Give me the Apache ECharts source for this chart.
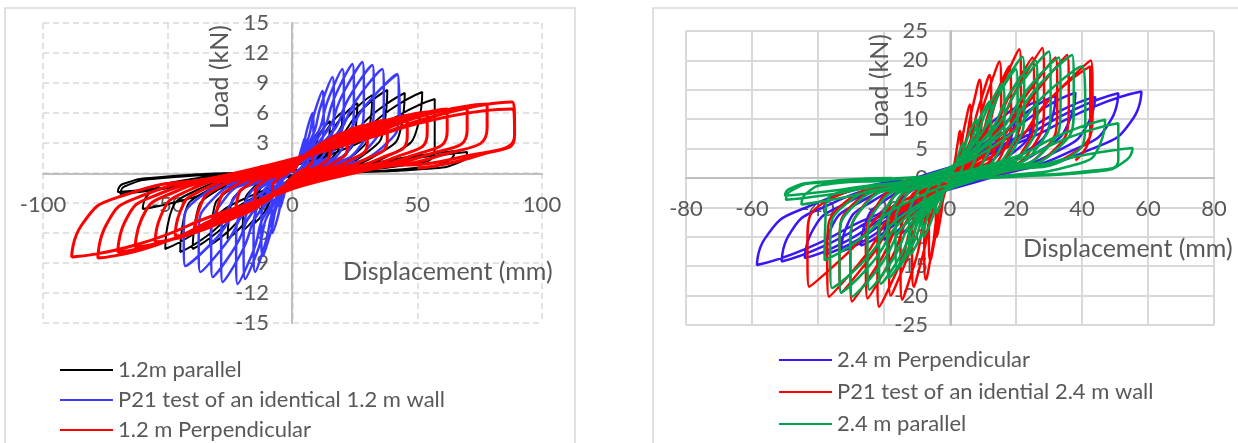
<!DOCTYPE html>
<html>
<head>
<meta charset="utf-8">
<script src="https://cdn.jsdelivr.net/npm/echarts@6/dist/echarts.min.js"></script>
<style>
  html, body { margin: 0; padding: 0; background: #fff; }
  #chart { width: 1238px; height: 443px; }
</style>
</head>
<body>
<div id="chart"></div>
<script>
// left panel: 1.2 m walls (displacement mm, load kN)
var parallel12 = [
  [0,0],[2.4,0.9],[4.5,2],[6,2.5],[5.8,1.5],[4.5,0.6],[1.8,0.05],[-2.4,-0.9],[-4.5,-2],[-6,-2.5],[-5.8,-1.5],[-4.5,-0.6],[-1.8,-0.05],
  [4,1.4],[7.5,3.1],[10,4],[9.7,2.4],[7.5,0.9],[3,0.1],[-4,-1.3],[-7.5,-3],[-10,-3.8],[-9.7,-2.3],[-7.5,-0.8],[-3,-0.1],
  [6,1.8],[11.3,4.1],[15,5.2],[14.6,3.1],[11.3,1.1],[4.5,0.1],[-6,-1.8],[-11.3,-3.9],[-15,-5],[-14.6,-3],[-11.3,-1.1],[-4.5,-0.1],
  [8,2.1],[15,4.8],[20,6.1],[19.4,3.7],[15,1.3],[6,0.1],[-8,-2],[-15,-4.5],[-20,-5.8],[-19.4,-3.5],[-15,-1.3],[-6,-0.1],
  [10.4,2.5],[19.5,5.5],[26,7],[25.2,4.2],[19.5,1.5],[7.8,0.1],[-10.4,-2.3],[-19.5,-5.1],[-26,-6.6],[-25.2,-4],[-19.5,-1.5],[-7.8,-0.1],
  [12.8,2.7],[24,6.1],[32,7.8],[31,4.7],[24,1.7],[9.6,0.2],[-13.2,-2.5],[-24.8,-5.6],[-33,-7.2],[-32,-4.3],[-24.8,-1.6],[-9.9,-0.1],
  [15.2,2.9],[28.5,6.5],[38,8.3],[36.9,5],[28.5,1.8],[11.4,0.2],[-16,-2.7],[-30,-5.9],[-40,-7.6],[-38.8,-4.6],[-30,-1.7],[-12,-0.2],
  [18,2.8],[33.8,6.2],[45,8],[43.7,4.8],[33.8,1.8],[13.5,0.2],[-18,-2.8],[-33.8,-6.2],[-45,-7.9],[-43.7,-4.7],[-33.8,-1.7],[-13.5,-0.2],
  [20.8,2.8],[39,6.3],[52,8.1],[50.4,4.9],[39,1.8],[15.6,0.2],[-20.4,-2.7],[-38.3,-5.9],[-51,-7.6],[-49.5,-4.6],[-38.3,-1.7],[-15.3,-0.2],
  [22.8,2.6],[42.8,5.8],[57,7.4],[57,2.5],[45,0.8],[17,0.1],[-24,-1.3],[-45,-2.8],[-60,-3.6],[-58,-2.2],[-45,-0.8],[-18,-0.1],
  [26,0.8],[49,1.7],[65,2.2],[63,1.3],[49,0.5],[20,0.05],[-28,-0.7],[-52,-1.6],[-69,-2.1],[-67,-1.3],[-52,-0.5],[-21,-0.05],
  [28,0.8],[52.5,1.6],[70,2.1],[68,1.2],[52.5,0.4],[21,0],[-28,-0.7],[-52.5,-1.5],[-70,-1.9],[-68,-1.1],[-52.5,-0.4],[-21,0]
];
var p21Wall12 = [
  [0,0],[2,1.1],[3.8,2.6],[5,3.5],[5.3,2.3],[4.3,0.9],[1.5,0.1],[-2,-1.1],[-3.8,-2.6],[-5,-3.5],[-5.3,-2.3],[-4.3,-0.9],[-1.5,-0.1],
  [3.2,1.8],[6,4.5],[8,6],[8.4,3.9],[6.8,1.5],[2.4,0.2],[-3.2,-1.8],[-6,-4.5],[-8,-6],[-8.4,-3.9],[-6.8,-1.5],[-2.4,-0.2],
  [4.8,2.5],[9,6.2],[12,8.2],[12.5,5.3],[10.2,2.1],[3.6,0.2],[-4.8,-2.5],[-9,-6.2],[-12,-8.3],[-12.5,-5.4],[-10.2,-2.1],[-3.6,-0.2],
  [6.4,2.9],[12,7.2],[16,9.6],[16.6,6.2],[13.6,2.4],[4.8,0.3],[-6,-3],[-11.3,-7.4],[-15,-9.9],[-15.6,-6.4],[-12.8,-2.5],[-4.5,-0.3],
  [8,3.1],[15,7.8],[20,10.4],[20.6,6.8],[17,2.6],[6,0.3],[-7.6,-3.2],[-14.3,-8],[-19,-10.6],[-19.6,-6.9],[-16.2,-2.7],[-5.7,-0.3],
  [9.6,3.3],[18,8.2],[24,10.9],[24.6,7.1],[20.4,2.7],[7.2,0.3],[-8.8,-3.3],[-16.5,-8.3],[-22,-11.1],[-22.6,-7.2],[-18.7,-2.8],[-6.6,-0.3],
  [11.2,3.3],[21,8.3],[28,11.1],[28.6,7.2],[23.8,2.8],[8.4,0.3],[-11.2,-3.3],[-21,-8.2],[-28,-10.9],[-28.6,-7.1],[-23.8,-2.7],[-8.4,-0.3],
  [12.8,3.2],[24,8.1],[32,10.8],[32.6,7],[27.2,2.7],[9.6,0.3],[-12.8,-3.1],[-24,-7.8],[-32,-10.4],[-32.6,-6.8],[-27.2,-2.6],[-9.6,-0.3],
  [14.4,3.1],[27,7.8],[36,10.4],[36.6,6.8],[30.6,2.6],[10.8,0.3],[-14.8,-3],[-27.8,-7.4],[-37,-9.9],[-37.6,-6.4],[-31.5,-2.5],[-11.1,-0.3],
  [16.8,3],[31.5,7.4],[42,9.9],[42.6,6.4],[35.7,2.5],[12.6,0.3],[-17.2,-2.8],[-32.3,-7],[-43,-9.3],[-43.6,-6],[-36.6,-2.3],[-12.9,-0.3],
  [16.8,3],[31.5,7.4],[42,9.8],[43,5]
];
var perp12 = [
  [0,0],[2.4,1],[5.6,1.9],[8,2.2],[8,1.4],[6,0.6],[2.4,0.05],[-2.4,-1],[-5.6,-2],[-8,-2.3],[-8,-1.5],[-6,-0.6],[-2.4,-0.05],
  [4.5,1.5],[10.5,2.8],[15,3.3],[15,2.1],[11.3,0.8],[4.5,0.1],[-4.5,-1.5],[-10.5,-2.8],[-15,-3.3],[-15,-2.1],[-11.3,-0.8],[-4.5,-0.1],
  [6.6,1.8],[15.4,3.5],[22,4.1],[22,2.7],[16.5,1],[6.6,0.1],[-6.9,-1.9],[-16.1,-3.7],[-23,-4.3],[-22.2,-2.7],[-17.3,-1.1],[-6.9,-0.1],
  [9,2.2],[21,4.1],[30,4.8],[30,3.1],[22.5,1.2],[9,0.1],[-9.3,-2.3],[-21.7,-4.3],[-31,-5.1],[-29.8,-3.2],[-23.3,-1.3],[-9.3,-0.1],
  [11.4,2.4],[26.6,4.5],[38,5.3],[38,3.4],[28.5,1.3],[11.4,0.1],[-11.7,-2.6],[-27.3,-4.8],[-39,-5.7],[-37.4,-3.6],[-29.3,-1.4],[-11.7,-0.1],
  [13.8,2.6],[32.2,4.8],[46,5.7],[46,3.7],[34.5,1.4],[13.8,0.1],[-14.1,-2.8],[-32.9,-5.4],[-47,-6.3],[-45.1,-3.9],[-35.3,-1.6],[-14.1,-0.1],
  [16.2,2.7],[37.8,5.2],[54,6.1],[54,4],[40.5,1.5],[16.2,0.1],[-16.5,-3.1],[-38.5,-5.9],[-55,-6.9],[-52.8,-4.3],[-41.3,-1.7],[-16.5,-0.1],
  [18.6,2.9],[43.4,5.4],[62,6.4],[62,4.2],[46.5,1.6],[18.6,0.1],[-18.9,-3.3],[-44.1,-6.3],[-63,-7.4],[-60.5,-4.6],[-47.3,-1.9],[-18.9,-0.1],
  [21,3],[49,5.6],[70,6.6],[70,4.3],[52.5,1.7],[21,0.1],[-21,-3.6],[-49,-6.7],[-70,-7.9],[-67.2,-4.9],[-52.5,-2],[-21,-0.2],
  [23.4,3.1],[54.6,5.9],[78,6.9],[78,4.5],[58.5,1.7],[23.4,0.1],[-23.4,-3.8],[-54.6,-7.2],[-78,-8.5],[-74.9,-5.3],[-58.5,-2.1],[-23.4,-0.2],
  [26.4,3.2],[61.6,6],[88,7.1],[89,4.6],[89,3.7],[66,1.5],[26.4,0.1],[-26.4,-3.8],[-61.6,-7.1],[-88.5,-8.4],[-84.5,-5.2],[-66,-2.1],[-26.4,-0.2],
  [26.4,3.2],[61.6,5.6],[88,6.4],[89,3.7],[75,1.8],[50,0.5]
];

// right panel: 2.4 m walls
var perp24 = [
  [0,0],[1.8,2],[3.8,4.1],[5,5],[4.8,3.5],[3.5,1.5],[1.3,0.2],[-1.8,-2],[-3.8,-4.1],[-5,-5],[-4.8,-3.5],[-3.5,-1.5],[-1.3,-0.2],
  [3.5,3.2],[7.5,6.6],[10,8],[9.6,5.6],[7,2.4],[2.5,0.2],[-3.5,-3],[-7.5,-6.2],[-10,-7.5],[-9.6,-5.3],[-7,-2.3],[-2.5,-0.2],
  [5.3,4.2],[11.3,8.6],[15,10.5],[14.4,7.4],[10.5,3.2],[3.8,0.3],[-5.3,-3.8],[-11.3,-7.8],[-15,-9.5],[-14.4,-6.7],[-10.5,-2.9],[-3.8,-0.3],
  [7,4.8],[15,9.8],[20,12],[19.2,8.4],[14,3.6],[5,0.4],[-7,-4.2],[-15,-8.6],[-20,-10.5],[-19.2,-7.4],[-14,-3.2],[-5,-0.3],
  [9.1,5.2],[19.5,10.7],[26,13],[25,9.1],[18.2,3.9],[6.5,0.4],[-9.5,-4.6],[-20.3,-9.4],[-27,-11.5],[-25.9,-8.1],[-18.9,-3.5],[-6.8,-0.3],
  [11.2,5.6],[24,11.5],[32,14],[30.7,9.8],[22.4,4.2],[8,0.4],[-11.6,-5],[-24.8,-10.3],[-33,-12.5],[-31.7,-8.8],[-23.1,-3.8],[-8.3,-0.4],
  [13.3,5.8],[28.5,11.9],[38,14.5],[36.5,10.2],[26.6,4.4],[9.5,0.4],[-13.3,-5.2],[-28.5,-10.7],[-38,-13],[-36.5,-9.1],[-26.6,-3.9],[-9.5,-0.4],
  [15.4,5.5],[33,11.3],[44,13.8],[42.2,9.7],[30.8,4.1],[11,0.4],[-15.4,-5.4],[-33,-11.2],[-44,-13.6],[-42.2,-9.5],[-30.8,-4.1],[-11,-0.4],
  [17.9,5.8],[38.3,11.8],[51,14.4],[49,10.1],[35.7,4.3],[12.8,0.4],[-17.9,-5.7],[-38.3,-11.6],[-51,-14.2],[-49,-9.9],[-35.7,-4.3],[-12.8,-0.4],
  [20.3,5.9],[43.5,12.1],[58,14.7],[55.7,10.3],[40.6,4.4],[14.5,0.4],[-20.5,-5.9],[-43.9,-12.1],[-58.5,-14.8],[-56.2,-10.4],[-41,-4.4],[-14.6,-0.4]
];
var p21Wall24 = [
  [0,0],[1.1,1.8],[2.3,5.8],[3,8],[3.3,4.8],[2.6,1.6],[1.1,0.3],[-1.4,-2.2],[-3,-7.2],[-4,-10],[-4.3,-6],[-3.4,-2],[-1.4,-0.4],
  [2.1,2.8],[4.5,9],[6,12.5],[6.4,7.5],[5.2,2.5],[2.1,0.5],[-2.1,-3.1],[-4.5,-10.1],[-6,-14],[-6.4,-8.4],[-5.2,-2.8],[-2.1,-0.6],
  [3.2,3.7],[6.8,12],[9,16.7],[9.5,10],[7.8,3.3],[3.2,0.7],[-2.6,-3.8],[-5.5,-12.5],[-7.3,-17.3],[-7.8,-10.4],[-6.3,-3.5],[-2.6,-0.7],
  [4.2,3.9],[9,12.6],[12,17.5],[12.5,10.5],[10.4,3.5],[4.2,0.7],[-3.9,-4.1],[-8.3,-13.3],[-11,-18.5],[-11.5,-11.1],[-9.5,-3.7],[-3.9,-0.7],
  [5.3,4.4],[11.3,14.3],[15,19.8],[15.5,11.9],[13,4],[5.3,0.8],[-5.1,-4.6],[-10.9,-14.9],[-14.5,-20.7],[-15,-12.4],[-12.5,-4.1],[-5.1,-0.8],
  [6.3,4.2],[13.5,13.7],[18,19],[18.5,11.4],[15.5,3.8],[6.3,0.8],[-6.3,-4.4],[-13.5,-14.4],[-18,-20],[-18.5,-12],[-15.5,-4],[-6.3,-0.8],
  [7.4,4.8],[15.8,15.8],[21,21.9],[21.5,13.1],[18,4.4],[7.4,0.9],[-7.5,-4.8],[-16.1,-15.8],[-21.5,-21.9],[-22,-13.1],[-18.5,-4.4],[-7.5,-0.9],
  [8.8,4.5],[18.8,14.8],[25,20.5],[25.5,12.3],[21.5,4.1],[8.8,0.8],[-8.8,-4.5],[-18.8,-14.8],[-25,-20.5],[-25.5,-12.3],[-21.5,-4.1],[-8.8,-0.8],
  [9.8,4.9],[21,15.9],[28,22.1],[28.5,13.3],[24,4.4],[9.8,0.9],[-10.4,-4.6],[-22.3,-15.1],[-29.7,-21],[-30.2,-12.6],[-25.5,-4.2],[-10.4,-0.8],
  [11.2,4.5],[24,14.8],[32,20.5],[32.5,12.3],[27.5,4.1],[11.2,0.8],[-11.6,-4.3],[-24.8,-14],[-33,-19.5],[-33.5,-11.7],[-28.3,-3.9],[-11.6,-0.8],
  [12.4,4.6],[26.6,15],[35.5,20.9],[36,12.5],[30.5,4.2],[12.4,0.8],[-12.8,-4.4],[-27.5,-14.5],[-36.7,-20.2],[-37.2,-12.1],[-31.5,-4],[-12.8,-0.8],
  [14.9,4.4],[32,14.4],[42.7,20],[43.2,12],[36.7,4],[14.9,0.8],[-14.9,-4.1],[-32,-13.3],[-42.7,-18.5],[-43.2,-11.1],[-36.7,-3.7],[-14.9,-0.7],
  [14.9,4.4],[32,14.4],[42.5,19],[42.5,8],[38,3]
];
var parallel24 = [
  [0,0],[1.4,1.8],[3,4.7],[4,6],[4.2,3.6],[3.4,1.3],[1.4,0.2],[-1.4,-1.8],[-3,-4.7],[-4,-6],[-4.2,-3.6],[-3.4,-1.3],[-1.4,-0.2],
  [2.8,3],[6,7.8],[8,10],[8.3,6],[6.9,2.2],[2.8,0.4],[-2.8,-3],[-6,-7.8],[-8,-10],[-8.3,-6],[-6.9,-2.2],[-2.8,-0.4],
  [4.2,3.9],[9,10.1],[12,13],[12.4,7.8],[10.3,2.9],[4.2,0.5],[-4.2,-3.9],[-9,-10.1],[-12,-13],[-12.4,-7.8],[-10.3,-2.9],[-4.2,-0.5],
  [5.6,4.8],[12,12.5],[16,16],[16.5,9.6],[13.8,3.5],[5.6,0.6],[-5.6,-4.7],[-12,-12.1],[-16,-15.5],[-16.5,-9.3],[-13.8,-3.4],[-5.6,-0.6],
  [7,5.6],[15,14.4],[20,18.5],[20.5,11.1],[17.2,4.1],[7,0.7],[-6.5,-5.1],[-13.9,-13.3],[-18.5,-17],[-19,-10.2],[-15.9,-3.7],[-6.5,-0.7],
  [7.7,6.2],[16.5,16.1],[22,20.6],[22.5,12.4],[18.9,4.5],[7.7,0.8],[-7.4,-5.4],[-15.8,-14],[-21,-18],[-21.5,-10.8],[-18,-4],[-7.4,-0.7],
  [9.1,6],[19.5,15.6],[26,20],[26.5,12],[22.4,4.4],[9.1,0.8],[-8.6,-5.7],[-18.4,-14.8],[-24.5,-19],[-25,-11.4],[-21,-4.2],[-8.6,-0.8],
  [10.5,6.5],[22.5,16.8],[30,21.5],[30.5,12.9],[25.8,4.7],[10.5,0.9],[-10.4,-6.1],[-22.3,-15.8],[-29.7,-20.2],[-30.2,-12.1],[-25.5,-4.4],[-10.4,-0.8],
  [11.6,6.2],[24.8,16],[33,20.5],[33.5,12.3],[28.4,4.5],[11.6,0.8],[-11.6,-5.9],[-24.8,-15.2],[-33,-19.5],[-33.5,-11.7],[-28.4,-4.3],[-11.6,-0.8],
  [13,6.3],[27.8,16.3],[37,20.9],[37.5,12.5],[31.8,4.6],[13,0.8],[-12.5,-5.6],[-26.9,-14.6],[-35.8,-18.7],[-36.3,-11.2],[-30.8,-4.1],[-12.5,-0.7],
  [14,5.7],[30,14.8],[40,19],[41,10],[36,3.5],[14,0.7],[-13.3,-4.2],[-28.5,-10.9],[-38,-14],[-37.6,-5],[-30,-2],[-13,-0.5],
  [16.5,3],[35,7.7],[47,9.9],[45.6,5.9],[37.6,2.2],[16.5,0.4],[-15.8,-1.4],[-33.8,-3.5],[-45,-4.5],[-43.7,-2.7],[-36,-1],[-15.8,-0.2],
  [17.9,2.8],[38,7.3],[51,9.3],[51,3],[42,1.2],[18,0.3],[-17.4,-1.1],[-37.3,-2.9],[-49.7,-3.7],[-48.2,-2.2],[-39.8,-0.8],[-17.4,-0.1],
  [19.4,1.5],[41.5,4],[55.3,5.1],[53.6,3.1],[44.2,1.1],[19.4,0.2],[-17.5,-0.9],[-37.5,-2.3],[-50,-3],[-48.5,-1.8],[-40,-0.7],[-17.5,0]
];

var leftNames = ['1.2m parallel', 'P21 test of an identical 1.2 m wall', '1.2 m Perpendicular'];
var rightNames = ['2.4 m Perpendicular', 'P21 test of an idential 2.4 m wall', '2.4 m parallel'];
var axisTitleX = 'Displacement (mm)';
var axisTitleY = 'Load (kN)';

var FONT = 'Lato';
var GREY = '#595959';
var chart = echarts.init(document.getElementById('chart'), null, { renderer: 'canvas' });

// axes are pushed from the grid edge to the zero line with offset, so labels follow the line (Excel style)
function xAxisOf(gridIndex, min, max, interval, dashed, shift) {
  return {
    type: 'value', gridIndex: gridIndex, min: min, max: max, interval: interval, offset: shift,
    axisLine: { onZero: false, lineStyle: { color: '#bfbfbf', width: 2 } },
    axisTick: { show: false },
    axisLabel: { color: GREY, fontSize: 22, fontFamily: FONT, margin: 20 },
    splitLine: { show: true, lineStyle: { color: '#d9d9d9', width: dashed ? 1.5 : 2, type: dashed ? [6, 4] : 'solid' } }
  };
}
function yAxisOf(gridIndex, min, max, interval, dashed, shift) {
  return {
    type: 'value', gridIndex: gridIndex, min: min, max: max, interval: interval, offset: shift,
    axisLine: { onZero: false, lineStyle: { color: '#bfbfbf', width: 2 } },
    axisTick: { show: false },
    axisLabel: { color: GREY, fontSize: 22, fontFamily: FONT, margin: 23 },
    splitLine: { show: true, lineStyle: { color: '#d9d9d9', width: dashed ? 1.5 : 2, type: dashed ? [6, 4] : 'solid' } }
  };
}
function loop(name, data, color, width, axis) {
  return {
    name: name, type: 'line', data: data, xAxisIndex: axis, yAxisIndex: axis,
    showSymbol: false, symbol: 'none', smooth: 0.6, clip: false, z: 5,
    lineStyle: { color: color, width: width }, itemStyle: { color: color }
  };
}

var option = {
  animation: false,
  backgroundColor: '#ffffff',
  grid: [
    { left: 43, width: 499, top: 23, height: 300 },
    { left: 686, width: 528, top: 31, height: 294 }
  ],
  xAxis: [ xAxisOf(0, -100, 100, 50, true, -149), xAxisOf(1, -80, 80, 20, false, -147) ],
  yAxis: [ yAxisOf(0, -15, 15, 3, true, -249), yAxisOf(1, -25, 25, 5, false, -265) ],
  legend: [
    {
      data: leftNames, orient: 'vertical', left: 55, top: 354, height: 100, itemGap: 8,
      itemWidth: 53, itemHeight: 2, icon: 'rect',
      textStyle: { color: GREY, fontSize: 22, fontFamily: FONT }
    },
    {
      data: rightNames, orient: 'vertical', left: 774, top: 344, height: 100, itemGap: 10,
      itemWidth: 53, itemHeight: 2, icon: 'rect',
      textStyle: { color: GREY, fontSize: 22, fontFamily: FONT }
    }
  ],
  graphic: [
    { type: 'rect', shape: { x: 5, y: 8, width: 570, height: 445 }, style: { fill: 'none', stroke: '#d9d9d9', lineWidth: 1.5 }, z: -10 },
    { type: 'rect', shape: { x: 653, y: 8, width: 600, height: 445 }, style: { fill: 'none', stroke: '#d9d9d9', lineWidth: 1.5 }, z: -10 },
    { type: 'text', x: 220, y: 77, rotation: Math.PI / 2, style: { text: axisTitleY, fill: GREY, font: '25px ' + FONT, textAlign: 'center', textVerticalAlign: 'middle' }, z: 100 },
    { type: 'text', x: 880, y: 86, rotation: Math.PI / 2, style: { text: axisTitleY, fill: GREY, font: '25px ' + FONT, textAlign: 'center', textVerticalAlign: 'middle' }, z: 100 },
    { type: 'text', x: 343, y: 272, style: { text: axisTitleX, fill: GREY, font: '25px ' + FONT, textAlign: 'left', textVerticalAlign: 'middle' }, z: 100 },
    { type: 'text', x: 1023, y: 249, style: { text: axisTitleX, fill: GREY, font: '25px ' + FONT, textAlign: 'left', textVerticalAlign: 'middle' }, z: 100 }
  ],
  series: [
    loop(leftNames[0], parallel12, '#000000', 2, 0),
    loop(leftNames[1], p21Wall12, '#3b3bff', 2.5, 0),
    loop(leftNames[2], perp12, '#ff0000', 3, 0),
    loop(rightNames[0], perp24, '#3a18f5', 2.5, 1),
    loop(rightNames[1], p21Wall24, '#ff0000', 2.5, 1),
    loop(rightNames[2], parallel24, '#00a550', 2.5, 1)
  ]
};
chart.setOption(option);
</script>
</body>
</html>
